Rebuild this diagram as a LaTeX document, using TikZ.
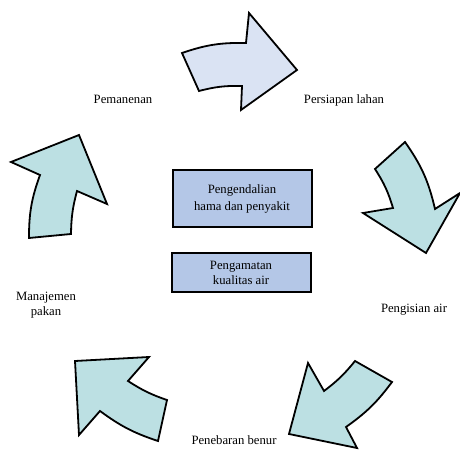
\documentclass[tikz,border=0pt]{standalone}
\usepackage{fontspec}
\setmainfont{Liberation Serif}
\definecolor{arrA}{HTML}{DAE3F3}
\definecolor{arrB}{HTML}{BCE0E3}
\definecolor{boxC}{HTML}{B4C7E7}
\begin{document}
\begin{tikzpicture}[x=1pt,y=1pt,
  cyc/.style={draw=black, line width=1.8pt, line join=miter},
  lbl/.style={font=\fontsize{12.7}{15}\selectfont, align=center, inner sep=0pt},
  cbox/.style={draw=black, line width=2pt, fill=boxC, minimum width=139pt, align=center, inner sep=0pt}]
\useasboundingbox (0,0) rectangle (460,450);
% arrow 1 (top)
\draw[cyc, fill=arrA] (182,397) to[bend left=10] (246,407) -- (249,437) -- (297,380) -- (241,340) -- (242,364) to[bend right=8] (199,359) -- cycle;
% arrow 2 (right)
\draw[cyc, fill=arrB] (405,308) to[bend left=11] (435,241) -- (460,257) -- (426,197) -- (363,237) -- (393,242) to[bend right=8] (375,281) -- cycle;
% arrow 3 (bottom right)
\draw[cyc, fill=arrB] (355,89) -- (392,68) to[bend left=9] (346,23) -- (357,2) -- (289,16) -- (308,87) -- (324,59) to[bend right=7] cycle;
% arrow 4 (bottom left)
\draw[cyc, fill=arrB] (167,50) -- (158,9) to[bend left=9] (100,39) -- (79,15) -- (75,89) -- (149,93) -- (128,69) to[bend right=7] cycle;
% arrow 5 (left)
\draw[cyc, fill=arrB] (29,212) -- (71,216) to[bend left=7] (77,259) -- (107,246) -- (79,315) -- (11,288) -- (40,275) to[bend right=10] cycle;
% labels
\node[lbl] (persiapan) at (344,350) {Persiapan lahan};
\node[lbl] (pemanenan) at (123,351) {Pemanenan};
\node[lbl] (pengisian) at (414,140) {Pengisian air};
\node[lbl] (penebaran) at (234,10) {Penebaran benur};
\node[lbl] (manajemen) at (46,145) {Manajemen\\pakan};
% boxes
\node[cbox, minimum height=57pt, font=\fontsize{12.7}{17.5}\selectfont] (hama) at (242,251) {Pengendalian\\hama dan penyakit};
\node[cbox, minimum height=39pt, font=\fontsize{12.7}{15}\selectfont] (kualitas) at (241,177.5) {Pengamatan\\kualitas air};
\end{tikzpicture}
\end{document}
